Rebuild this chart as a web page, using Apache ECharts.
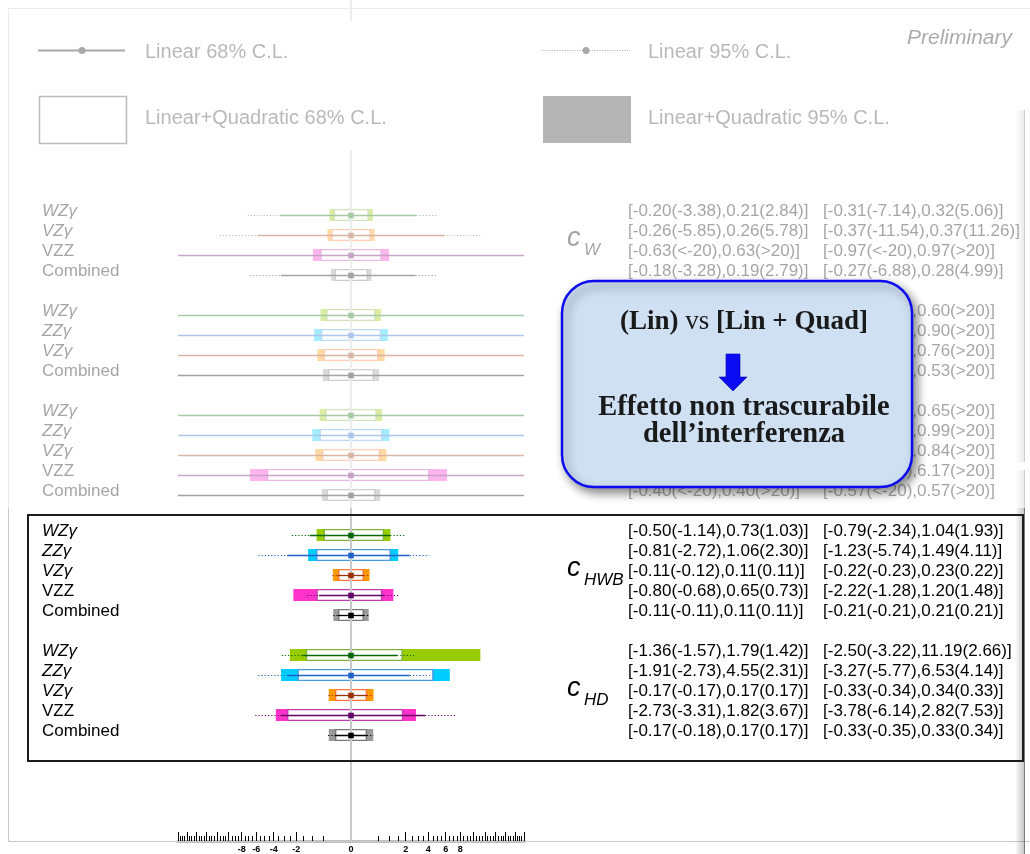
<!DOCTYPE html>
<html>
<head>
<meta charset="utf-8">
<script src="https://cdn.jsdelivr.net/npm/echarts@6/dist/echarts.min.js"></script>
<style>
  html, body { margin: 0; padding: 0; background: #fff; }
  #chart { width: 1030px; height: 854px; }
</style>
</head>
<body>
<div id="chart"></div>
<script>
// Channel shown on each row; '' is the spacer between coefficient blocks
const rowLabels = [
  'WZγ', 'VZγ', 'VZZ', 'Combined', '',
  'WZγ', 'ZZγ', 'VZγ', 'Combined', '',
  'WZγ', 'ZZγ', 'VZγ', 'VZZ', 'Combined', '',
  'WZγ', 'ZZγ', 'VZγ', 'VZZ', 'Combined', '',
  'WZγ', 'ZZγ', 'VZγ', 'VZZ', 'Combined'
];

const INF = Infinity;   // interval reaches beyond the ±20 plotting range

// Linear+Quadratic, 68% C.L.
const lq68Lo = [-0.20, -0.26, -0.63, -0.18, null,
  -0.41, -0.60, -0.50, -0.35, null,
  -0.44, -0.66, -0.56, -4.72, -0.40, null,
  -0.50, -0.81, -0.11, -0.80, -0.11, null,
  -1.36, -1.91, -0.17, -2.73, -0.17];
const lq68Hi = [0.21, 0.26, 0.63, 0.19, null,
  0.40, 0.60, 0.50, 0.35, null,
  0.44, 0.66, 0.56, 4.10, 0.40, null,
  0.73, 1.06, 0.11, 0.65, 0.11, null,
  1.79, 4.55, 0.17, 1.82, 0.17];

// Linear only, 68% C.L.
const lin68Lo = [-3.38, -5.85, -INF, -3.28, null,
  -INF, -INF, -INF, -INF, null,
  -INF, -INF, -INF, -INF, -INF, null,
  -1.14, -2.72, -0.12, -0.68, -0.11, null,
  -1.57, -2.73, -0.17, -3.31, -0.18];
const lin68Hi = [2.84, 5.78, INF, 2.79, null,
  INF, INF, INF, INF, null,
  INF, INF, INF, INF, INF, null,
  1.03, 2.30, 0.11, 0.73, 0.11, null,
  1.42, 2.31, 0.17, 3.67, 0.17];

// Linear+Quadratic, 95% C.L.
const lq95Lo = [-0.31, -0.37, -0.97, -0.27, null,
  -0.62, -0.91, -0.76, -0.53, null,
  -0.66, -1.00, -0.85, -6.84, -0.57, null,
  -0.79, -1.23, -0.22, -2.22, -0.21, null,
  -2.50, -3.27, -0.33, -3.78, -0.33];
const lq95Hi = [0.32, 0.37, 0.97, 0.28, null,
  0.60, 0.90, 0.76, 0.53, null,
  0.65, 0.99, 0.84, 6.17, 0.57, null,
  1.04, 1.49, 0.23, 1.20, 0.21, null,
  11.19, 6.53, 0.34, 2.82, 0.33];

// Linear only, 95% C.L.
const lin95Lo = [-7.14, -11.54, -INF, -6.88, null,
  -INF, -INF, -INF, -INF, null,
  -INF, -INF, -INF, -INF, -INF, null,
  -2.34, -5.74, -0.23, -1.28, -0.21, null,
  -3.22, -5.77, -0.34, -6.14, -0.35];
const lin95Hi = [5.06, 11.26, INF, 4.99, null,
  INF, INF, INF, INF, null,
  INF, INF, INF, INF, INF, null,
  1.93, 4.11, 0.22, 1.48, 0.21, null,
  2.66, 4.14, 0.33, 7.53, 0.34];

// Wilson coefficient names with the first/last row of their block
const coeffNames = ['W', 'HWB', 'HD'];
const coeffFirstRow = [0, 16, 22];
const coeffLastRow = [3, 20, 26];

// Bottom axis labels
const tickLabels = [-8, -6, -4, -2, 0, 2, 4, 6, 8];

const LIMIT = 20;            // plotted range is ±20
const XMAX = 4.5;            // axis extent in sqrt units (a touch past sqrt(20))
const FONT = '"Liberation Sans", Arial, Helvetica, sans-serif';
const SERIF = '"Liberation Serif", "Times New Roman", serif';

// Square-root scale: the axis works in sign(v)*sqrt(|v|)
function T(v) {
  const a = Math.min(Math.abs(v), LIMIT);
  return Math.sign(v) * Math.sqrt(a);
}

// Axis ticks: short every 0.5, long every 2 (up to ±20)
const minorTicks = [], majorTicks = [];
for (let k = 1; k <= LIMIT * 2; k++) {
  const v = k / 2;
  if (v % 2 === 0) { majorTicks.push(v, -v); } else { minorTicks.push(v, -v); }
}

const palette = {
  'WZγ':      { fill: '#99cc00', edge: '#7fb23a', line: '#0a6a0a' },
  'ZZγ':      { fill: '#00ccff', edge: '#4a9ae0', line: '#1e63c8' },
  'VZγ':      { fill: '#ff9900', edge: '#ff7436', line: '#993300' },
  'VZZ':      { fill: '#ff33cc', edge: '#c23ab2', line: '#660066' },
  'Combined': { fill: '#9a9a9a', edge: '#777777', line: '#000000' }
};

function fmt(v) {
  if (v === INF) return '>' + LIMIT;
  if (v === -INF) return '<-' + LIMIT;
  return v.toFixed(2);
}
function interval68(i) {
  return '[' + fmt(lq68Lo[i]) + '(' + fmt(lin68Lo[i]) + '),' + fmt(lq68Hi[i]) + '(' + fmt(lin68Hi[i]) + ')]';
}
function interval95(i) {
  return '[' + fmt(lq95Lo[i]) + '(' + fmt(lin95Lo[i]) + '),' + fmt(lq95Hi[i]) + '(' + fmt(lin95Hi[i]) + ')]';
}

const rowKeys = rowLabels.map((_, i) => 'r' + i);
const rowData = [];
rowLabels.forEach((name, i) => {
  if (!name) return;
  rowData.push([i,
    T(lq95Lo[i]), T(lq95Hi[i]), T(lq68Lo[i]), T(lq68Hi[i]),
    T(lin95Lo[i]), T(lin95Hi[i]), T(lin68Lo[i]), T(lin68Hi[i])]);
});

function renderBoxes(params, api) {
  const row = api.value(0);
  const pal = palette[rowLabels[row]];
  const yc = api.coord([0, row])[1];
  const h = api.size([0, 1])[1] * 0.6;
  const x = v => api.coord([v, row])[0];
  const f0 = x(api.value(1)), f1 = x(api.value(2));
  const w0 = x(api.value(3)), w1 = x(api.value(4));
  return {
    type: 'group',
    children: [
      { type: 'rect', shape: { x: f0, y: yc - h / 2, width: f1 - f0, height: h },
        style: { fill: pal.fill } },
      { type: 'rect', shape: { x: w0 + 0.6, y: yc - h / 2 + 0.6, width: w1 - w0 - 1.2, height: h - 1.2 },
        style: { fill: '#ffffff', stroke: pal.edge, lineWidth: 1.4 } }
    ]
  };
}

function renderLines(params, api) {
  const row = api.value(0);
  const pal = palette[rowLabels[row]];
  const yc = Math.round(api.coord([0, row])[1]) + 0.5;
  const x = v => api.coord([v, row])[0];
  const a95 = x(api.value(5)), b95 = x(api.value(6));
  const a68 = x(api.value(7)), b68 = x(api.value(8));
  const children = [];
  const dotted = { stroke: pal.line, lineWidth: 1.2, lineDash: [1.2, 2] };
  if (a95 < a68 - 0.5) children.push({ type: 'line', shape: { x1: a95, y1: yc, x2: a68, y2: yc }, style: dotted });
  if (b95 > b68 + 0.5) children.push({ type: 'line', shape: { x1: b68, y1: yc, x2: b95, y2: yc }, style: dotted });
  children.push({ type: 'line', shape: { x1: a68, y1: yc, x2: b68, y2: yc },
    style: { stroke: pal.line, lineWidth: 1.3 } });
  const c0 = x(0);
  children.push({ type: 'rect', shape: { x: c0 - 2.8, y: yc - 2.8, width: 5.6, height: 5.6 },
    style: { fill: pal.line } });
  return { type: 'group', children };
}

function renderCoeff(params, api) {
  const r0 = api.value(0), r1 = api.value(1);
  const name = coeffNames[api.value(2)];
  const yc = (api.coord([0, r0])[1] + api.coord([0, r1])[1]) / 2;
  const x0 = params.coordSys.x + params.coordSys.width + 42;
  return {
    type: 'group',
    children: [
      { type: 'text', style: { text: 'c', x: x0, y: yc - 7, fill: '#000',
        font: 'italic 27px ' + FONT, align: 'left', verticalAlign: 'middle',
        textAlign: 'left', textVerticalAlign: 'middle' } },
      { type: 'text', style: { text: name, x: x0 + 17, y: yc + 5, fill: '#000',
        font: 'italic 17px ' + FONT, align: 'left', verticalAlign: 'middle',
        textAlign: 'left', textVerticalAlign: 'middle' } }
    ]
  };
}

const coeffData = coeffNames.map((_, k) => [coeffFirstRow[k], coeffLastRow[k], k]);

function txt(text, x, y, font, fill, align, z) {
  return { type: 'text', z: z, silent: true,
    style: { text, x, y, font, fill, align: align || 'left', verticalAlign: 'middle',
      textAlign: align || 'left', textVerticalAlign: 'middle' } };
}

const upright = ['VZZ', 'Combined'];

const option = {
  animation: false,
  backgroundColor: '#ffffff',
  grid: [
    { left: 177, width: 348, top: 205, height: 540 },
    { left: 177, width: 348, top: 0, height: 841 }
  ],
  xAxis: [
    { gridIndex: 0, type: 'value', min: -XMAX, max: XMAX, show: false },
    { gridIndex: 1, type: 'value', min: -XMAX, max: XMAX, position: 'bottom',
      axisLine: { show: true, onZero: false, lineStyle: { color: '#000', width: 1.3 } },
      axisTick: { show: true, inside: true, length: 5, customValues: minorTicks.map(T),
        lineStyle: { color: '#000', width: 1 } },
      axisLabel: { show: false }, splitLine: { show: false } },
    { gridIndex: 1, type: 'value', min: -XMAX, max: XMAX, position: 'bottom',
      axisLine: { show: false, onZero: false },
      axisTick: { show: true, inside: true, length: 9, customValues: majorTicks.map(T),
        lineStyle: { color: '#000', width: 1 } },
      axisLabel: { show: true, customValues: tickLabels.map(T), margin: 4,
        fontFamily: FONT, fontSize: 9, fontWeight: 'bold', color: '#000',
        formatter: v => String(Math.round(Math.sign(v) * v * v)) },
      splitLine: { show: false } }
  ],
  yAxis: [
    { gridIndex: 0, type: 'category', data: rowKeys, inverse: true, position: 'left',
      axisLine: { show: false }, axisTick: { show: false }, splitLine: { show: false },
      axisLabel: {
        interval: 0, margin: 135, align: 'left', padding: [0, 0, 7, 0],
        formatter: v => {
          const name = rowLabels[+v.slice(1)];
          if (!name) return '';
          return upright.includes(name) ? '{n|' + name + '}' : '{i|' + name + '}';
        },
        rich: {
          n: { fontFamily: FONT, fontSize: 17, color: '#000' },
          i: { fontFamily: FONT, fontSize: 17, fontStyle: 'italic', color: '#000' }
        }
      } },
    { gridIndex: 0, type: 'category', data: rowKeys, inverse: true, position: 'right',
      axisLine: { show: false }, axisTick: { show: false }, splitLine: { show: false },
      axisLabel: {
        interval: 0, margin: 103, align: 'left', padding: [0, 0, 7, 0],
        formatter: v => {
          const i = +v.slice(1);
          if (!rowLabels[i]) return '';
          return '{a|' + interval68(i) + '}{b|' + interval95(i) + '}';
        },
        rich: {
          a: { fontFamily: FONT, fontSize: 17, color: '#000', width: 195 },
          b: { fontFamily: FONT, fontSize: 17, color: '#000' }
        }
      } },
    { gridIndex: 1, type: 'value', min: 0, max: 1, show: false }
  ],
  series: [
    { type: 'custom', name: 'Linear+Quadratic', xAxisIndex: 0, yAxisIndex: 0, z: 10,
      data: rowData, encode: { y: 0, x: [1, 2, 3, 4] }, renderItem: renderBoxes, silent: true },
    { type: 'line', name: 'zero', xAxisIndex: 1, yAxisIndex: 2, z: 11, silent: true,
      data: [[0, 0], [0, 1]], symbol: 'none', lineStyle: { color: '#c9c9c9', width: 2 } },
    { type: 'custom', name: 'Linear', xAxisIndex: 0, yAxisIndex: 0, z: 12,
      data: rowData, encode: { y: 0, x: [5, 6, 7, 8] }, renderItem: renderLines, silent: true },
    { type: 'custom', name: 'coefficients', xAxisIndex: 0, yAxisIndex: 0, z: 12,
      data: coeffData, encode: { y: 0 }, renderItem: renderCoeff, silent: true }
  ],
  graphic: { elements: [
    // outer frame
    { type: 'line', z: 1, silent: true, shape: { x1: 8.5, y1: 8.5, x2: 1030, y2: 8.5 }, style: { stroke: '#c8c8c8', lineWidth: 1 } },
    { type: 'line', z: 1, silent: true, shape: { x1: 8.5, y1: 8.5, x2: 8.5, y2: 841.5 }, style: { stroke: '#c8c8c8', lineWidth: 1 } },
    { type: 'line', z: 1, silent: true, shape: { x1: 8.5, y1: 841.5, x2: 1030, y2: 841.5 }, style: { stroke: '#c8c8c8', lineWidth: 1 } },
    // neighbouring panel edges on the right
    { type: 'rect', z: 1, silent: true, shape: { x: 1015, y: 110, width: 9, height: 352 },
      style: { fill: new echarts.graphic.LinearGradient(0, 0, 1, 0, [
        { offset: 0, color: 'rgba(0,0,0,0)' }, { offset: 1, color: 'rgba(0,0,0,0.22)' }]) } },
    { type: 'line', z: 1, silent: true, shape: { x1: 1024.5, y1: 110, x2: 1024.5, y2: 462 }, style: { stroke: '#7a7a7a', lineWidth: 1 } },
    { type: 'rect', z: 1, silent: true, shape: { x: 1015, y: 470, width: 9, height: 384 },
      style: { fill: new echarts.graphic.LinearGradient(0, 0, 1, 0, [
        { offset: 0, color: 'rgba(0,0,0,0)' }, { offset: 1, color: 'rgba(0,0,0,0.22)' }]) } },
    { type: 'line', z: 1, silent: true, shape: { x1: 1024.5, y1: 470, x2: 1024.5, y2: 854 }, style: { stroke: '#7a7a7a', lineWidth: 1 } },

    // legend
    { type: 'rect', z: 13, silent: true, shape: { x: 20, y: 21, width: 995, height: 129 }, style: { fill: '#ffffff' } },
    { type: 'line', z: 14, silent: true, shape: { x1: 38, y1: 50.5, x2: 125, y2: 50.5 }, style: { stroke: '#111', lineWidth: 2 } },
    { type: 'circle', z: 14, silent: true, shape: { cx: 82, cy: 50.5, r: 3.5 }, style: { fill: '#111' } },
    { type: 'line', z: 14, silent: true, shape: { x1: 542, y1: 50.5, x2: 630, y2: 50.5 }, style: { stroke: '#111', lineWidth: 1.2, lineDash: [1, 1.5] } },
    { type: 'circle', z: 14, silent: true, shape: { cx: 586, cy: 50.5, r: 3.5 }, style: { fill: '#111' } },
    { type: 'rect', z: 14, silent: true, shape: { x: 39.5, y: 96.5, width: 87, height: 47 }, style: { fill: '#fff', stroke: '#444', lineWidth: 1.5 } },
    { type: 'rect', z: 14, silent: true, shape: { x: 543, y: 96, width: 88, height: 47 }, style: { fill: '#343434' } },
    txt('Linear 68% C.L.', 145, 52, '20px ' + FONT, '#3a3a3a', 'left', 14),
    txt('Linear 95% C.L.', 648, 52, '20px ' + FONT, '#3a3a3a', 'left', 14),
    txt('Linear+Quadratic 68% C.L.', 145, 118, '20px ' + FONT, '#3a3a3a', 'left', 14),
    txt('Linear+Quadratic 95% C.L.', 648, 118, '20px ' + FONT, '#3a3a3a', 'left', 14),
    txt('Preliminary', 1012, 38, 'italic 21px ' + FONT, '#111', 'right', 14),

    // frame around the HWB / HD blocks
    { type: 'rect', z: 40, silent: true, shape: { x: 28, y: 515, width: 995, height: 246 },
      style: { fill: 'none', stroke: '#1c1c1c', lineWidth: 2 } },

    // upper blocks are shown dimmed
    { type: 'rect', z: 50, silent: true, shape: { x: 0, y: 0, width: 1030, height: 508 },
      style: { fill: 'rgba(255,255,255,0.64)' } },

    // callout
    { type: 'rect', z: 60, silent: true, shape: { x: 562, y: 281, width: 350, height: 206, r: 32 },
      style: { fill: '#cfe0f3', stroke: '#0b0bee', lineWidth: 2.5,
        shadowBlur: 10, shadowColor: 'rgba(0,0,0,0.45)', shadowOffsetX: 4, shadowOffsetY: 5 } },
    { type: 'text', z: 61, silent: true,
      style: { text: '{b|(Lin)} {r|vs} {b|[Lin + Quad]}', x: 744, y: 322,
        font: '27px ' + SERIF, fill: '#1a1a1a', align: 'center', verticalAlign: 'middle',
        textAlign: 'center', textVerticalAlign: 'middle',
        rich: { b: { font: 'bold 27px ' + SERIF, fill: '#1a1a1a' },
                r: { font: '27px ' + SERIF, fill: '#1a1a1a' } } } },
    { type: 'polygon', z: 61, silent: true,
      shape: { points: [[726, 354], [740, 354], [740, 377], [747, 377], [733, 391], [719, 377], [726, 377]] },
      style: { fill: '#0c0cf2', stroke: '#0000b0', lineWidth: 0.6 } },
    txt('Effetto non trascurabile', 744, 408, 'bold 28.5px ' + SERIF, '#1a1a1a', 'center', 61),
    txt('dell’interferenza', 744, 435, 'bold 28.5px ' + SERIF, '#1a1a1a', 'center', 61)
  ] }
};

const chart = echarts.init(document.getElementById('chart'), null, { renderer: 'canvas' });
chart.setOption(option);
</script>
</body>
</html>
